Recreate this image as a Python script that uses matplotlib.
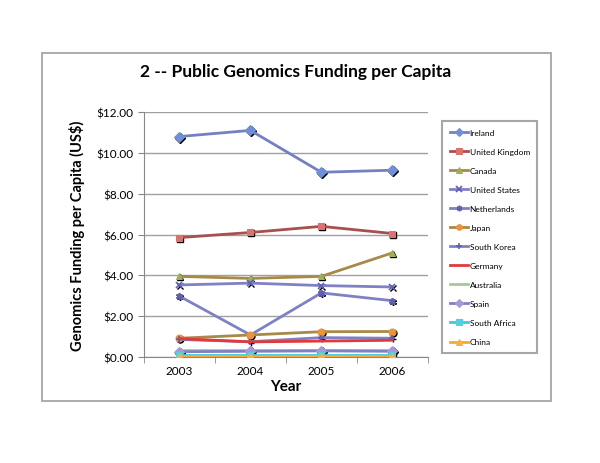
import numpy as np
import matplotlib
matplotlib.use("Agg")
import matplotlib.pyplot as plt
from matplotlib.patches import Rectangle
from matplotlib.transforms import offset_copy
from matplotlib.ticker import FuncFormatter, FixedLocator

plt.rcParams['font.family'] = ['Lato', 'DejaVu Sans']

# data
years = ['2003', '2004', '2005', '2006']
countries = ['Ireland', 'United Kingdom', 'Canada', 'United States', 'Netherlands',
             'Japan', 'South Korea', 'Germany', 'Australia', 'Spain',
             'South Africa', 'China']
ireland = [10.80, 11.10, 9.05, 9.15]
uk = [5.85, 6.10, 6.40, 6.05]
canada = [3.95, 3.85, 3.95, 5.10]
usa = [3.53, 3.62, 3.50, 3.43]
netherlands = [2.98, 1.08, 3.14, 2.76]
japan = [0.92, 1.08, 1.24, 1.25]
south_korea = [0.86, 0.75, 0.95, 0.92]
germany = [0.90, 0.74, 0.78, 0.82]
australia = [0.36, 0.36, 0.36, 0.36]
spain = [0.26, 0.28, 0.30, 0.28]
south_africa = [0.12, 0.12, 0.12, 0.12]
china = [0.05, 0.05, 0.05, 0.05]
series = [ireland, uk, canada, usa, netherlands, japan, south_korea,
          germany, australia, spain, south_africa, china]

# (line colour, marker, marker face)
styles = [
    ('#7480C2', 'D', '#6F8FD8'),
    ('#A8504E', 's', '#D87470'),
    ('#A88A48', '^', '#9CB058'),
    ('#8080C4', 'x', '#6060B0'),
    ('#8080C4', (6, 2, 0), '#6060B0'),
    ('#A88A48', 'o', '#E8953E'),
    ('#8080C4', '+', '#6060B0'),
    ('#E23A3A', None, None),
    ('#A8C898', None, None),
    ('#8080C4', 'D', '#A898D8'),
    ('#40C8D8', 's', '#50D0E0'),
    ('#F8A838', '^', '#F8B040'),
]


def main():
    fig = plt.figure(figsize=(6, 4.64), dpi=100)
    fig.patches.append(Rectangle((0.07, 0.134), 0.848, 0.75, transform=fig.transFigure,
                                 fill=False, edgecolor='#A6A6A6', linewidth=1.3))
    ax = fig.add_axes([0.24, 0.2284, 0.473, 0.528])
    x = np.arange(len(years)) + 0.5
    shadow = offset_copy(ax.transData, fig=fig, x=1.0, y=-1.0, units='dots')

    handles = []
    for name, vals, (lc, mk, mf) in zip(countries, series, styles):
        thin = mk in ('x', '+', (6, 2, 0))
        if mk is not None:
            ax.plot(x, vals, linestyle='none', marker=mk, markersize=5,
                    color='black', markeredgecolor='black', transform=shadow, zorder=2)
        h, = ax.plot(x, vals, color=lc, linewidth=2, marker=mk, markersize=5,
                     markerfacecolor=mf, markeredgecolor=mf,
                     markeredgewidth=1.2 if thin else 0.8, label=name, zorder=3)
        handles.append(h)

    ax.set_xlim(0, 4)
    ax.set_ylim(0, 12)
    ax.set_xticks(x)
    ax.set_xticklabels(years)
    ax.xaxis.set_minor_locator(FixedLocator([0, 1, 2, 3, 4]))
    ax.tick_params(axis='x', which='major', length=0, labelsize=8.5, pad=6)
    ax.tick_params(axis='x', which='minor', length=4, color='#888888')
    ax.set_yticks(np.arange(0, 13, 2))
    ax.yaxis.set_major_formatter(FuncFormatter(lambda v, p: f'${v:.2f}'))
    ax.tick_params(axis='y', length=4, color='#888888', labelsize=8.5)
    ax.grid(axis='y', color='#A0A0A0', linewidth=1)
    ax.set_axisbelow(True)
    for s in ('top', 'right'):
        ax.spines[s].set_visible(False)
    for s in ('left', 'bottom'):
        ax.spines[s].set_color('#888888')

    ax.set_xlabel('Year', fontsize=11, fontweight='bold', labelpad=2)
    ax.set_ylabel('Genomics Funding per Capita (US$)', fontsize=10.5, fontweight='bold', labelpad=8)
    fig.text(0.492, 0.845, '2 -- Public Genomics Funding per Capita', ha='center', va='center',
             fontsize=12.5, fontweight='bold')

    leg = fig.legend(handles=handles, loc='upper left', bbox_to_anchor=(0.737, 0.737),
                     fontsize=6, frameon=True, fancybox=False, handlelength=2.2,
                     labelspacing=1.45, borderpad=0.9, handletextpad=0.2, markerscale=0.8,
                     borderaxespad=0)
    leg.get_frame().set_edgecolor('#909090')
    leg.get_frame().set_linewidth(1.5)

    fig.savefig('out.png', dpi=100)


if __name__ == '__main__':
    main()
